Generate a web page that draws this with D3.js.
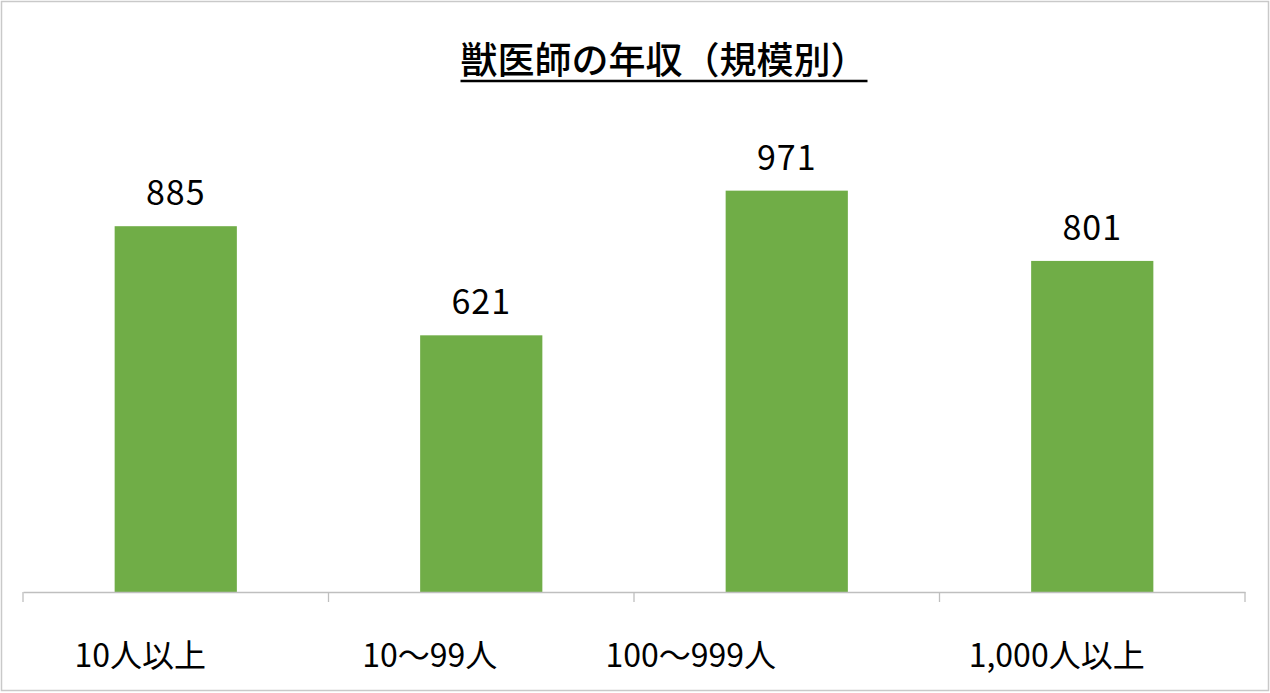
<!doctype html>
<html lang="ja">
<head>
	<meta charset="UTF-8">
	<title>獣医師の年収（規模別）</title>
	<style>
		body { margin: 0; background: #fff; }
		svg text { font-family: "Noto Sans CJK JP", "Noto Sans", sans-serif; fill: #000; }
		.tick text { white-space: pre; }
	</style>
</head>
<body>
<svg class="chart"></svg>

<script src="https://d3js.org/d3.v7.min.js"></script>
<script>
// data (the category names carry trailing blanks, as in the source sheet)
var title = "獣医師の年収（規模別）";
var categories = ["10人以上　　 ", "10〜99人　　　 ", "100〜999人　　　　　　", "1,000人以上　　 "];
var salaries = [885, 621, 971, 801];
var yDomain = [0, 1200];

var width = 1270,
	height = 693,
	plotLeft = 23, plotRight = 1245,
	plotTop = 96, plotBottom = 592;

var svg = d3.select(".chart")
	.attr("width", width)
	.attr("height", height);

// outer frame
svg.append("rect")
	.attr("x", 1.5).attr("y", 1.5)
	.attr("width", width - 3).attr("height", height - 4)
	.attr("fill", "#fff")
	.attr("stroke", "#c9c9c9")
	.attr("stroke-width", 1.5);

var x = d3.scaleBand()
	.domain(categories)
	.range([plotLeft, plotRight])
	.paddingInner(0.6)
	.paddingOuter(0.3);

var y = d3.scaleLinear()
	.domain(yDomain)
	.range([plotBottom, plotTop]);

// title + underline
var t = svg.append("text")
	.attr("x", 664)
	.attr("y", 74)
	.attr("text-anchor", "middle")
	.style("font-size", "37px")
	.style("font-weight", 500)
	.text(title);
var tb = t.node().getBBox();
svg.append("line")
	.attr("x1", tb.x).attr("x2", tb.x + tb.width)
	.attr("y1", 81).attr("y2", 81)
	.attr("stroke", "#000")
	.attr("stroke-width", 2.5);

// bars
var data = categories.map(function(c, i) { return {cat: c, v: salaries[i]}; });

svg.selectAll("rect.bar")
	.data(data)
	.enter().append("rect")
	.attr("class", "bar")
	.attr("x", function(d) { return x(d.cat); })
	.attr("y", function(d) { return y(d.v); })
	.attr("width", x.bandwidth())
	.attr("height", function(d) { return y(0) - y(d.v); })
	.attr("fill", "#70ad47");

svg.selectAll("text.val")
	.data(data)
	.enter().append("text")
	.attr("class", "val")
	.attr("x", function(d) { return x(d.cat) + x.bandwidth() / 2; })
	.attr("y", function(d) { return y(d.v) - 21; })
	.attr("text-anchor", "middle")
	.style("font-size", "34px")
	.style("letter-spacing", "1px")
	.text(function(d) { return d.v; });

// category axis: labels at band centres, tick marks between categories
var axis = svg.append("g")
	.attr("transform", "translate(0," + plotBottom + ")")
	.call(d3.axisBottom(x).tickSize(0).tickPadding(52));
axis.select(".domain").attr("stroke", "#bfbfbf").attr("stroke-width", 1.3);
axis.selectAll(".tick text")
	.attr("xml:space", "preserve")
	.style("font-size", "32px")
	.style("font-family", "\"Noto Sans CJK JP\", sans-serif");

var step = (plotRight - plotLeft) / categories.length;
axis.selectAll("line.sep")
	.data(d3.range(categories.length + 1))
	.enter().append("line")
	.attr("class", "sep")
	.attr("x1", function(i) { return plotLeft + i * step; })
	.attr("x2", function(i) { return plotLeft + i * step; })
	.attr("y1", 0).attr("y2", 10)
	.attr("stroke", "#bfbfbf")
	.attr("stroke-width", 1.3);
</script>
</body>
</html>
